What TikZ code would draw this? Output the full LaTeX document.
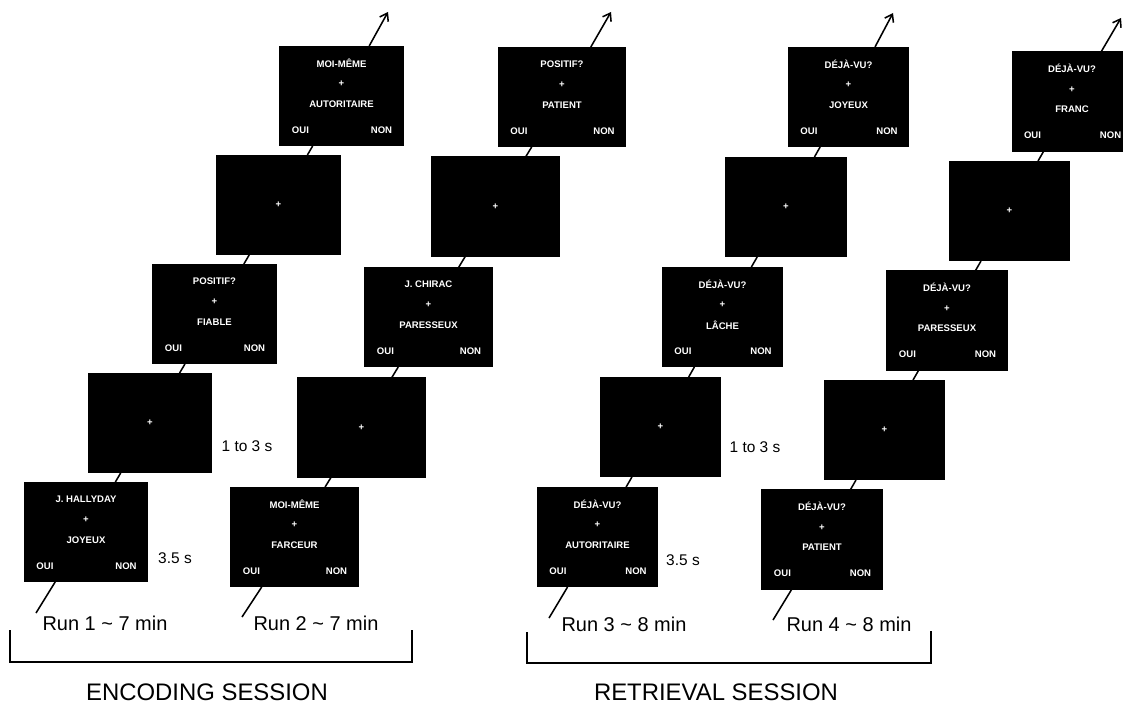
\documentclass[tikz,border=0pt]{standalone}
\usepackage{fontspec}
\setmainfont{Liberation Sans}
\usetikzlibrary{calc,arrows.meta}

\tikzset{
  screen/.style={fill=black, inner sep=0pt, outer sep=0pt, minimum height=2.5cm, minimum width=#1},
  screen/.default=3.1cm,
  scrtext/.style={text=white, font=\fontsize{6.8}{8}\selectfont\bfseries, inner sep=0pt},
  trial/.style={line width=1.1pt, -{Straight Barb[length=5pt,width=7pt]}},
  timing/.style={font=\fontsize{11}{13}\selectfont},
  runlabel/.style={font=\fontsize{14.2}{16}\selectfont},
  session/.style={font=\fontsize{17}{20}\selectfont, inner sep=0pt, anchor=base},
  bracket/.style={line width=1.3pt},
}

\newcommand{\stimscreen}[5]{%
  \node[screen=#3] (#1) at #2 {};
  \node[scrtext] (#1-q) at ($(#1)+(0,-33)$) {#4};
  \node[scrtext] (#1-p) at ($(#1)+(0,-12)$) {+};
  \node[scrtext] (#1-w) at ($(#1)+(0,8)$) {#5};
  \node[scrtext] (#1-y) at ($(#1.west)+(21,34)$) {OUI};
  \node[scrtext] (#1-n) at ($(#1.east)+(-22,34)$) {NON};
}

\begin{document}
\begin{tikzpicture}[x=0.025cm, y=-0.025cm]
    \useasboundingbox (0,0) rectangle (1123,703);

    % run 1
    \stimscreen{r1s1}{(86,532)}{3.1cm}{J. HALLYDAY}{JOYEUX}
    \node[screen=3.1cm, scrtext] (r1f1) at (150,423) {+};
    \stimscreen{r1s2}{(214.5,314)}{3.1cm}{POSITIF?}{FIABLE}
    \node[screen=3.1cm, scrtext] (r1f2) at (278.5,205) {+};
    \stimscreen{r1s3}{(341.5,96)}{3.1cm}{MOI-MÊME}{AUTORITAIRE}
    \coordinate (r1a) at (36,613);
    \coordinate (r1z) at (388,12);
    \draw[trial] (r1a) -- (r1s1) -- (r1f1) -- (r1s2) -- (r1f2) -- (r1s3) -- (r1z);

    % run 2
    \stimscreen{r2s1}{(294.5,537)}{3.2cm}{MOI-MÊME}{FARCEUR}
    \node[screen=3.2cm, scrtext] (r2f1) at (361.5,427.5) {+};
    \stimscreen{r2s2}{(428.5,317)}{3.2cm}{J. CHIRAC}{PARESSEUX}
    \node[screen=3.2cm, scrtext] (r2f2) at (495.5,206.5) {+};
    \stimscreen{r2s3}{(562,97)}{3.2cm}{POSITIF?}{PATIENT}
    \coordinate (r2a) at (242,617);
    \coordinate (r2z) at (611,12);
    \draw[trial] (r2a) -- (r2s1) -- (r2f1) -- (r2s2) -- (r2f2) -- (r2s3) -- (r2z);

    % run 3
    \stimscreen{r3s1}{(597.5,537)}{3.025cm}{DÉJÀ-VU?}{AUTORITAIRE}
    \node[screen=3.025cm, scrtext] (r3f1) at (660.5,427) {+};
    \stimscreen{r3s2}{(722.5,317)}{3.025cm}{DÉJÀ-VU?}{LÂCHE}
    \node[screen=3.025cm, scrtext] (r3f2) at (786,207) {+};
    \stimscreen{r3s3}{(848.5,97)}{3.025cm}{DÉJÀ-VU?}{JOYEUX}
    \coordinate (r3a) at (549,618);
    \coordinate (r3z) at (893,13);
    \draw[trial] (r3a) -- (r3s1) -- (r3f1) -- (r3s2) -- (r3f2) -- (r3s3) -- (r3z);

    % run 4
    \stimscreen{r4s1}{(822,539.5)}{3.025cm}{DÉJÀ-VU?}{PATIENT}
    \node[screen=3.025cm, scrtext] (r4f1) at (884.5,430) {+};
    \stimscreen{r4s2}{(947,320.5)}{3.025cm}{DÉJÀ-VU?}{PARESSEUX}
    \node[screen=3.025cm, scrtext] (r4f2) at (1009.5,211) {+};
    \stimscreen{r4s3}{(1072,101.5)}{3.025cm}{DÉJÀ-VU?}{FRANC}
    \coordinate (r4a) at (773,620);
    \coordinate (r4z) at (1121,18);
    \draw[trial] (r4a) -- (r4s1) -- (r4f1) -- (r4s2) -- (r4f2) -- (r4s3) -- (r4z);

    \node[timing] (t1s) at (175,558) {3.5 s};
    \node[timing] (t1f) at (247,446) {1 to 3 s};
    \node[timing] (t3s) at (683,560) {3.5 s};
    \node[timing] (t3f) at (755,447) {1 to 3 s};

    \node[runlabel] (run1) at (105,623) {Run 1 \textasciitilde{} 7 min};
    \node[runlabel] (run2) at (316,623) {Run 2 \textasciitilde{} 7 min};
    \node[runlabel] (run3) at (624,624) {Run 3 \textasciitilde{} 8 min};
    \node[runlabel] (run4) at (849,624) {Run 4 \textasciitilde{} 8 min};

    \draw[bracket] (10,630) |- (412,662) -- (412,630);
    \draw[bracket] (527,632) |- (931,663) -- (931,631);
    \node[session] (enc) at (207,700) {ENCODING SESSION};
    \node[session] (ret) at (716,700) {RETRIEVAL SESSION};
\end{tikzpicture}
\end{document}
